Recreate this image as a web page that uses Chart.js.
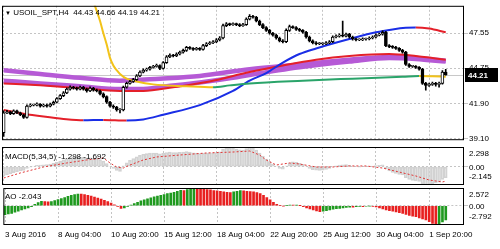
<!DOCTYPE html>
<html lang="en">
<head>
<meta charset="UTF-8">
<title>USOIL_SPT,H4</title>
<script src="https://cdn.jsdelivr.net/npm/chart.js"></script>
<style>
    body { margin: 0; background: #fff; }
    #tela { position: relative; width: 500px; height: 249px; overflow: hidden; font-family: "Liberation Sans", Arial, sans-serif; }
    .painel { position: absolute; left: 0; }
    .rotulo { position: absolute; left: 5px; font-size: 8px; line-height: 10px; color: #000; white-space: pre; }
</style>
</head>
<body>
<div id="tela">
    <canvas class="painel" id="chartPreco" width="500" height="146" style="top:0"></canvas>
    <canvas class="painel" id="chartMacd" width="500" height="40" style="top:146px"></canvas>
    <canvas class="painel" id="chartAo" width="500" height="63" style="top:186px"></canvas>
    <div class="rotulo" id="titulo" style="top:8px"></div>
    <div class="rotulo" id="rotuloMacd" style="top:152px"></div>
    <div class="rotulo" id="rotuloAo" style="top:192px"></div>
</div>
<script>
// ---- dados ----
const simbolo = 'USOIL_SPT,H4';
const nSlots = 139;   // 134 velas + espaco vazio a direita
const xTickIdx = [0, 16, 32, 48, 64, 80, 96, 112, 128];
const xTickLabels = ['3 Aug 2016', '8 Aug 04:00', '10 Aug 20:00', '15 Aug 12:00', '18 Aug 04:00',
    '22 Aug 20:00', '25 Aug 12:00', '30 Aug 04:00', '1 Sep 20:00'];
const precoTicks = [39.10, 41.90, 44.75, 47.55];
const precoMin = 38.95, precoMax = 49.76;
const macdEscala = [2.298, 0, -2.145];
const aoEscala = [2.572, 0, -2.792];

const abertura = [
    39.55, 41.16, 41.23, 41.08, 41.31, 41.16, 41.00, 40.78, 41.69, 41.77,
    41.77, 41.84, 41.69, 41.77, 41.69, 41.84, 42.00, 42.30, 42.53, 42.76,
    43.06, 43.21, 43.14, 43.06, 43.21, 43.06, 42.91, 43.14, 42.98, 42.91,
    42.68, 42.45, 42.00, 41.69, 41.61, 41.38, 41.38, 43.21, 43.52, 43.67,
    43.82, 44.12, 44.43, 44.58, 44.66, 44.81, 44.89, 44.96, 44.73, 45.19,
    45.65, 45.80, 45.72, 45.88, 46.03, 46.18, 46.41, 46.33, 46.26, 46.33,
    46.26, 46.56, 46.71, 46.79, 46.87, 47.02, 47.17, 48.16, 48.31, 48.24,
    48.31, 48.24, 48.16, 48.24, 48.69, 48.92, 48.84, 48.54, 48.24, 48.01,
    47.78, 47.55, 47.40, 47.17, 46.94, 46.87, 47.78, 48.08, 48.01, 47.86,
    47.78, 47.63, 47.25, 46.94, 46.79, 46.71, 46.71, 46.71, 46.79, 46.87,
    47.25, 47.32, 47.40, 47.32, 47.47, 47.25, 47.09, 47.02, 47.02, 47.09,
    47.09, 47.17, 47.25, 47.40, 47.47, 47.63, 46.56, 46.48, 46.41, 46.33,
    46.18, 46.03, 45.04, 44.89, 44.89, 44.81, 44.66, 43.52, 43.36, 43.44,
    43.52, 43.44, 43.52, 44.43
];
const maxima = [
    41.31, 41.35, 41.30, 41.40, 41.38, 41.22, 41.05, 41.80, 41.88, 41.86,
    41.95, 41.90, 41.86, 41.85, 41.93, 42.10, 42.38, 42.62, 42.86, 43.16,
    43.32, 43.28, 43.22, 43.30, 43.29, 43.14, 43.24, 43.20, 43.07, 42.98,
    42.75, 42.52, 42.08, 41.80, 41.68, 41.50, 43.30, 43.62, 43.76, 43.92,
    44.22, 44.52, 44.70, 44.75, 44.90, 44.98, 45.08, 45.02, 45.28, 45.75,
    45.90, 45.86, 45.97, 46.12, 46.28, 46.50, 46.48, 46.40, 46.42, 46.40,
    46.66, 46.80, 46.88, 46.96, 47.12, 47.28, 48.28, 48.42, 48.38, 48.40,
    48.38, 48.32, 48.34, 48.80, 49.05, 49.00, 48.92, 48.62, 48.32, 48.08,
    47.86, 47.62, 47.48, 47.25, 47.05, 47.90, 48.20, 48.15, 48.08, 47.94,
    47.85, 47.70, 47.32, 47.02, 46.88, 46.80, 46.79, 46.88, 46.96, 47.35,
    47.42, 47.50, 48.54, 47.56, 47.54, 47.32, 47.16, 47.10, 47.18, 47.17,
    47.26, 47.34, 47.50, 47.56, 47.74, 47.70, 46.64, 46.56, 46.50, 46.40,
    46.26, 46.10, 45.12, 44.98, 44.96, 44.88, 44.74, 43.60, 43.55, 43.62,
    43.60, 43.62, 44.55, 44.66
];
const minima = [
    39.25, 41.08, 41.00, 41.02, 41.08, 40.92, 40.70, 40.72, 41.62, 41.70,
    41.70, 41.60, 41.62, 41.60, 41.62, 41.78, 41.94, 42.22, 42.46, 42.70,
    42.98, 43.06, 42.98, 43.00, 42.98, 42.82, 42.85, 42.90, 42.84, 42.60,
    42.36, 41.90, 41.60, 41.50, 41.28, 41.15, 41.30, 43.14, 43.45, 43.60,
    43.75, 44.05, 44.36, 44.50, 44.58, 44.74, 44.82, 44.62, 44.66, 45.12,
    45.58, 45.64, 45.66, 45.80, 45.96, 46.10, 46.25, 46.18, 46.20, 46.18,
    46.20, 46.48, 46.64, 46.72, 46.80, 46.94, 47.10, 48.08, 48.16, 48.18,
    48.16, 48.08, 48.10, 48.18, 48.62, 48.76, 48.46, 48.16, 47.93, 47.70,
    47.47, 47.32, 47.08, 46.86, 46.78, 46.80, 47.70, 47.94, 47.78, 47.70,
    47.55, 47.16, 46.86, 46.70, 46.62, 46.63, 46.62, 46.64, 46.72, 46.80,
    47.18, 47.24, 47.25, 47.26, 47.16, 47.00, 46.94, 46.95, 46.96, 47.00,
    47.02, 47.10, 47.18, 47.33, 47.40, 46.48, 46.40, 46.33, 46.25, 46.10,
    45.95, 44.96, 44.80, 44.80, 44.72, 44.58, 43.44, 42.98, 43.28, 43.36,
    43.30, 43.22, 43.45, 44.19
];
const fechamento = [
    41.16, 41.23, 41.08, 41.31, 41.16, 41.00, 40.78, 41.69, 41.77, 41.77,
    41.84, 41.69, 41.77, 41.69, 41.84, 42.00, 42.30, 42.53, 42.76, 43.06,
    43.21, 43.14, 43.06, 43.21, 43.06, 42.91, 43.14, 42.98, 42.91, 42.68,
    42.45, 42.00, 41.69, 41.61, 41.38, 41.38, 43.21, 43.52, 43.67, 43.82,
    44.12, 44.43, 44.58, 44.66, 44.81, 44.89, 44.96, 44.73, 45.19, 45.65,
    45.80, 45.72, 45.88, 46.03, 46.18, 46.41, 46.33, 46.26, 46.33, 46.26,
    46.56, 46.71, 46.79, 46.87, 47.02, 47.17, 48.16, 48.31, 48.24, 48.31,
    48.24, 48.16, 48.24, 48.69, 48.92, 48.84, 48.54, 48.24, 48.01, 47.78,
    47.55, 47.40, 47.17, 46.94, 46.87, 47.78, 48.08, 48.01, 47.86, 47.78,
    47.63, 47.25, 46.94, 46.79, 46.71, 46.71, 46.71, 46.79, 46.87, 47.25,
    47.32, 47.40, 47.32, 47.47, 47.25, 47.09, 47.02, 47.02, 47.09, 47.09,
    47.17, 47.25, 47.40, 47.47, 47.63, 46.56, 46.48, 46.41, 46.33, 46.18,
    46.03, 45.04, 44.89, 44.89, 44.81, 44.66, 43.52, 43.36, 43.44, 43.52,
    43.44, 43.52, 44.43, 44.21
];

// medias moveis: [indice da barra, preco]
const mediaAmarela = [[24, 53.34], [25, 52.19], [26, 51.05], [27, 50.14], [29, 48.54], [30, 47.55], [31, 46.64],
    [32, 45.57], [33, 44.96], [34, 44.58], [35, 44.28], [37, 43.90], [40, 43.67], [45, 43.44], [55, 43.29],
    [63, 43.21], [68, 43.36], [74, 43.52], [90, 43.74], [105, 43.90], [120, 44.05], [125, 44.12], [129, 44.10], [133, 44.06]];
const mediaAzul = [[0, 41.38], [6, 41.08], [12, 40.85], [18, 40.66], [24, 40.55], [30, 40.58], [37, 40.53], [42, 40.62],
    [48, 41.00], [59, 41.77], [69, 42.91], [74, 43.74], [79, 44.35], [84, 45.19], [89, 45.88], [94, 46.33],
    [104, 47.09], [112, 47.63], [117, 47.86], [121, 47.99], [124, 48.02], [128, 47.93], [133, 47.63]];
const mediaRoxa1 = [[0, 44.58], [11, 44.28], [23, 43.97], [35, 43.74], [47, 43.90], [59, 44.12], [74, 44.66],
    [89, 45.04], [104, 45.42], [116, 45.65], [124, 45.57], [133, 45.34]];
const mediaRoxa2 = [[0, 43.74], [11, 43.52], [23, 43.29], [35, 43.06], [41, 43.06], [49, 43.29], [59, 43.59],
    [69, 43.97], [74, 44.20], [89, 44.81], [104, 45.27], [116, 45.57], [124, 45.49], [133, 45.27]];
const mediaVermelha = [[0, 43.52], [11, 43.36], [23, 43.14], [35, 42.91], [42, 42.91], [51, 43.21], [62, 43.67],
    [74, 44.43], [84, 44.96], [94, 45.42], [104, 45.72], [116, 45.88], [124, 45.72], [133, 45.42]];

const macdVals = [
    -1.10, -0.95, -0.85, -0.70, -0.60, -0.50, -0.45, -0.20, -0.05, 0.05,
    0.15, 0.18, 0.22, 0.25, 0.30, 0.40, 0.52, 0.65, 0.80, 0.95,
    1.05, 1.08, 1.08, 1.10, 1.08, 1.02, 1.04, 1.00, 0.95, 0.82,
    0.65, 0.35, 0.05, -0.20, -0.45, -0.55, 0.10, 0.45, 0.75, 0.95,
    1.15, 1.32, 1.45, 1.52, 1.58, 1.60, 1.60, 1.50, 1.55, 1.65,
    1.70, 1.65, 1.65, 1.68, 1.70, 1.75, 1.70, 1.62, 1.58, 1.52,
    1.55, 1.58, 1.60, 1.62, 1.66, 1.72, 2.05, 2.20, 2.18, 2.15,
    2.05, 1.98, 1.95, 2.10, 2.298, 2.20, 1.95, 1.60, 1.25, 0.90,
    0.60, 0.30, 0.05, -0.20, -0.30, 0.10, 0.45, 0.55, 0.50, 0.40,
    0.28, 0.05, -0.20, -0.35, -0.42, -0.45, -0.40, -0.32, -0.22, 0.00,
    0.10, 0.18, 0.20, 0.24, 0.15, 0.05, 0.00, -0.02, 0.00, 0.02,
    0.05, 0.08, 0.12, 0.16, 0.22, -0.25, -0.50, -0.68, -0.80, -0.90,
    -0.98, -1.30, -1.50, -1.60, -1.66, -1.72, -2.02, -2.145, -2.08, -1.98,
    -1.90, -1.82, -1.48, -1.298
];
const macdSinal = [[0, -1.33], [5, -0.74], [12, -0.04], [19, 0.43], [25, 0.78], [30, 1.01], [32, 0.43], [34, -0.04],
    [36, -0.16], [38, 0.19], [42, 0.78], [46, 1.13], [53, 1.36], [61, 1.60], [69, 1.71], [74, 1.83], [77, 1.36],
    [79, 0.78], [82, 0.19], [86, 0.43], [89, 0.31], [94, -0.04], [99, -0.04], [104, 0.08], [109, 0.08],
    [114, -0.16], [119, -0.63], [124, -1.09], [128, -1.56], [132, -1.79], [133, -1.692]];

const aoVals = [
    -1.30, -1.20, -1.10, -0.95, -0.80, -0.60, -0.45, -0.30, -0.15, 0.20,
    0.45, 0.65, 0.60, 0.55, 0.62, 0.75, 0.90, 1.05, 1.20, 1.35,
    1.50, 1.60, 1.70, 1.68, 1.60, 1.50, 1.40, 1.25, 1.10, 0.95,
    0.80, 0.60, 0.40, 0.15, -0.10, -0.40, -0.30, -0.10, 0.10, 0.30,
    0.50, 0.70, 0.85, 1.00, 1.15, 1.30, 1.40, 1.50, 1.60, 1.75,
    1.85, 1.95, 2.10, 2.25, 2.20, 2.35, 2.45, 2.572, 2.50, 2.45,
    2.40, 2.35, 2.30, 2.20, 2.15, 2.10, 2.00, 1.95, 1.90, 2.00,
    2.10, 2.20, 2.15, 2.10, 2.05, 2.00, 1.90, 1.75, 1.50, 1.20,
    0.85, 0.50, 0.20, 0.05, -0.05, 0.05, 0.10, 0.08, 0.10, 0.02,
    -0.15, -0.30, -0.45, -0.60, -0.75, -0.85, -0.80, -0.70, -0.60, -0.50,
    -0.42, -0.38, -0.30, -0.25, -0.20, -0.22, -0.15, -0.10, -0.12, -0.08,
    -0.05, -0.10, -0.18, -0.30, -0.45, -0.60, -0.70, -0.80, -0.90, -1.00,
    -1.10, -1.25, -1.40, -1.50, -1.60, -1.75, -1.90, -2.05, -2.30, -2.55,
    -2.792, -2.60, -2.35, -2.043
];

// ---- aparencia ----
const fonte = '"Liberation Sans", Arial, sans-serif';
Chart.defaults.font.family = fonte;
Chart.defaults.font.size = 8;
Chart.defaults.color = '#000';
Chart.defaults.animation = false;

const corGrade = '#c4c4c4';
const roxo = '#b65ad6', vermelho = '#e4202a', azul = '#1a2ee6', amarelo = '#f2c31a', verde = '#2aa46a';
const aoVerde = '#1f9a1f', aoVermelho = '#e82020';
const ultimo = fechamento.length - 1;

function pontos(lista) {
    return lista.map(p => ({ x: p[0], y: p[1] }));
}

function eixoX(comRotulos) {
    return {
        type: 'linear', min: -0.5, max: nSlots - 0.5, offset: false,
        afterBuildTicks: s => { s.ticks = xTickIdx.map(v => ({ value: v })); },
        ticks: {
            display: comRotulos, align: 'start', padding: 5, autoSkip: false, maxRotation: 0,
            callback: (v, i) => xTickLabels[i]
        },
        grid: { color: corGrade, drawTicks: false, offset: false },
        border: { display: false, dash: [2, 2] },
        afterFit: s => { s.height = comRotulos ? 24 : 0; }
    };
}

function eixoY(min, max, marcas, comRotulos) {
    return {
        position: 'right', min: min, max: max,
        afterBuildTicks: s => { s.ticks = marcas.map(v => ({ value: v })); },
        ticks: { display: comRotulos, padding: 1, callback: v => v.toFixed(2) },
        grid: { color: corGrade, drawTicks: true, tickLength: 4 },
        border: { display: false, dash: [2, 2] },
        afterFit: s => { s.width = 36; }
    };
}

const moldura = {
    id: 'moldura',
    afterDraw(chart) {
        const { ctx, chartArea: a } = chart;
        ctx.save();
        ctx.strokeStyle = '#000';
        ctx.lineWidth = 1;
        ctx.strokeRect(a.left + 0.5, a.top + 0.5, a.right - a.left - 1, a.bottom - a.top - 1);
        ctx.restore();
    }
};

// linha do bid + etiqueta preta do ultimo preco
const linhaPreco = {
    id: 'linhaPreco',
    beforeDatasetsDraw(chart) {
        const { ctx, chartArea: a } = chart;
        const y = Math.round(chart.scales.y.getPixelForValue(fechamento[ultimo])) + 0.5;
        ctx.save();
        ctx.strokeStyle = '#c8c8c8';
        ctx.beginPath(); ctx.moveTo(a.left, y); ctx.lineTo(a.right, y); ctx.stroke();
        ctx.restore();
    },
    afterDraw(chart) {
        const { ctx, chartArea: a } = chart;
        const y = Math.round(chart.scales.y.getPixelForValue(fechamento[ultimo]));
        ctx.save();
        ctx.fillStyle = '#000';
        ctx.fillRect(a.right + 1, y - 7, 33, 14);
        ctx.fillStyle = '#fff';
        ctx.font = 'bold 8px ' + fonte;
        ctx.textBaseline = 'middle';
        ctx.fillText(fechamento[ultimo].toFixed(2), a.right + 4, y + 0.5);
        ctx.restore();
    }
};

// rotulos max / 0 / min a direita das janelas dos indicadores
const rotulosEscala = {
    id: 'rotulosEscala',
    afterDraw(chart, args, opts) {
        const { ctx, chartArea: a } = chart;
        const esc = opts.valores;
        ctx.save();
        ctx.fillStyle = '#000';
        ctx.font = '8px ' + fonte;
        ctx.textBaseline = 'middle';
        esc.forEach((v, i) => {
            let y = chart.scales.y.getPixelForValue(v);
            if (i === 0) y += 7;
            else if (i === esc.length - 1) y -= 8;
            else y += 1;
            ctx.fillText(v === 0 ? '0.00' : v.toFixed(3), a.right + 5, y);
        });
        ctx.restore();
    }
};

const semExtras = { legend: { display: false }, tooltip: { enabled: false } };

// ---- grafico de precos ----
new Chart(document.getElementById('chartPreco'), {
    type: 'bar',
    data: {
        datasets: [
            {
                type: 'line', data: pontos(mediaRoxa1), borderColor: roxo, borderWidth: 4.5,
                pointRadius: 0, cubicInterpolationMode: 'monotone', order: 7
            },
            {
                type: 'line', data: pontos(mediaRoxa2), borderColor: roxo, borderWidth: 4.5,
                pointRadius: 0, cubicInterpolationMode: 'monotone', order: 6
            },
            {
                type: 'line', data: pontos(mediaVermelha), borderColor: vermelho, borderWidth: 2,
                pointRadius: 0, cubicInterpolationMode: 'monotone', order: 5
            },
            {
                type: 'line', data: pontos(mediaAzul), borderWidth: 2, pointRadius: 0,
                cubicInterpolationMode: 'monotone', order: 4,
                segment: { borderColor: c => c.p1.parsed.y > c.p0.parsed.y ? azul : vermelho }
            },
            {
                type: 'line', data: pontos(mediaAmarela), borderWidth: 2, pointRadius: 0,
                cubicInterpolationMode: 'monotone', order: 3,
                segment: { borderColor: c => c.p1.parsed.y > c.p0.parsed.y ? verde : amarelo }
            },
            {
                // pavios
                data: minima.map((l, i) => ({ x: i, y: [l, maxima[i]] })),
                backgroundColor: '#000', barThickness: 1, grouped: false, order: 1
            },
            {
                // corpos
                data: abertura.map((o, i) => ({ x: i, y: [o, fechamento[i]] })),
                backgroundColor: c => fechamento[c.dataIndex] >= abertura[c.dataIndex] ? '#fff' : '#000',
                borderColor: '#000', borderWidth: 1, borderSkipped: false,
                barThickness: 3, minBarLength: 1, grouped: false, order: 0
            }
        ]
    },
    options: {
        responsive: false,
        layout: { padding: { left: 2, top: 2, bottom: 2, right: 0 } },
        plugins: semExtras,
        scales: {
            x: eixoX(false),
            y: eixoY(precoMin, precoMax, precoTicks, true)
        }
    },
    plugins: [linhaPreco, moldura]
});

// ---- MACD ----
new Chart(document.getElementById('chartMacd'), {
    type: 'bar',
    data: {
        datasets: [
            {
                data: macdVals.map((v, i) => ({ x: i, y: v })),
                backgroundColor: 'rgba(255,255,255,0)', borderColor: '#d2d2d2', borderWidth: 1,
                borderSkipped: false, barThickness: 3, order: 1
            },
            {
                type: 'line', data: pontos(macdSinal), borderColor: '#e03434', borderWidth: 1,
                borderDash: [2, 2], pointRadius: 0, order: 0
            }
        ]
    },
    options: {
        responsive: false,
        layout: { padding: { left: 2, top: 1, bottom: 1, right: 0 } },
        plugins: Object.assign({ rotulosEscala: { valores: macdEscala } }, semExtras),
        scales: {
            x: eixoX(false),
            y: eixoY(macdEscala[2], macdEscala[0], [0], false)
        }
    },
    plugins: [rotulosEscala, moldura]
});

// ---- Awesome Oscillator ----
new Chart(document.getElementById('chartAo'), {
    type: 'bar',
    data: {
        datasets: [{
            data: aoVals.map((v, i) => ({ x: i, y: v })),
            backgroundColor: c => (c.dataIndex > 0 && aoVals[c.dataIndex] < aoVals[c.dataIndex - 1]) ? aoVermelho : aoVerde,
            barThickness: 2
        }]
    },
    options: {
        responsive: false,
        layout: { padding: { left: 2, top: 2, bottom: 0, right: 0 } },
        plugins: Object.assign({ rotulosEscala: { valores: aoEscala } }, semExtras),
        scales: {
            x: eixoX(true),
            y: eixoY(aoEscala[2], aoEscala[0], [0], false)
        }
    },
    plugins: [rotulosEscala, moldura]
});

// ---- textos das janelas ----
document.getElementById('titulo').innerHTML = '<span style="font-size:6px">&#9660;</span> ' + simbolo + '  ' +
    [abertura[ultimo], maxima[ultimo], minima[ultimo], fechamento[ultimo]].map(v => v.toFixed(2)).join(' ');
document.getElementById('rotuloMacd').textContent = 'MACD(5,34,5) ' + macdVals[ultimo].toFixed(3) + ' ' +
    macdSinal[macdSinal.length - 1][1].toFixed(3);
document.getElementById('rotuloAo').textContent = 'AO ' + aoVals[ultimo].toFixed(3);
</script>
</body>
</html>
